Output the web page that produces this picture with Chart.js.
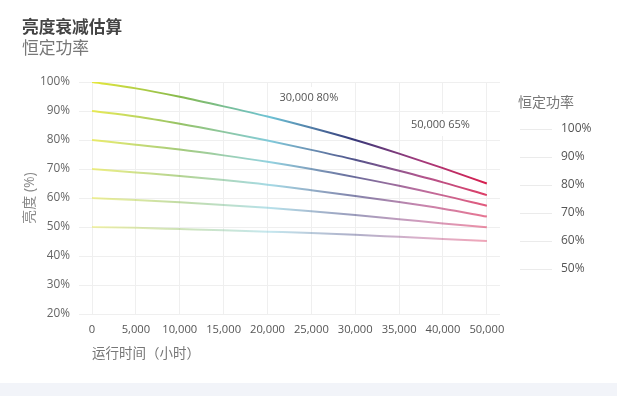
<!DOCTYPE html>
<html>
<head>
<meta charset="utf-8">
<script src="https://cdn.jsdelivr.net/npm/chart.js@4.4.1/dist/chart.umd.min.js"></script>
<style>
  html, body { margin: 0; padding: 0; background: #ffffff; }
  #wrap { width: 617px; height: 383px; background: #ffffff; }
  #band { width: 617px; height: 13px; background: #f2f4f9; }
</style>
</head>
<body>
<div id="wrap"><canvas id="c" width="617" height="383"></canvas></div>
<div id="band"></div>
<script>
// ---- data ----
const xLabels = ['0', '5,000', '10,000', '15,000', '20,000', '25,000', '30,000', '35,000', '40,000', '50,000'];
const yTicks = [20, 30, 40, 50, 60, 70, 80, 90, 100];
const seriesNames = ['100%', '90%', '80%', '70%', '60%', '50%'];
const s100 = [100, 97.8, 94.9, 91.6, 88.1, 84.2, 80.0, 75.3, 70.3, 65.0];
const s90  = [90, 88.1, 85.6, 82.8, 79.8, 76.6, 73.2, 69.4, 65.4, 61.0];
const s80  = [80, 78.4, 76.7, 74.7, 72.5, 70.0, 67.2, 64.2, 60.9, 57.3];
const s70  = [70, 68.8, 67.6, 66.2, 64.6, 62.7, 60.7, 58.6, 56.3, 53.6];
const s60  = [60, 59.3, 58.5, 57.6, 56.6, 55.4, 54.1, 52.7, 51.2, 49.9];
const s50  = [50, 49.7, 49.3, 48.9, 48.4, 47.9, 47.3, 46.6, 45.9, 45.2];
const markerIdx = [6, 9];
const markerVal = [80, 65];
const markerText = ['30,000 80%', '50,000 65%'];
const legendTitle = '恒定功率';

const allSeries = [s100, s90, s80, s70, s60, s50];
const alphas = [1.0, 0.86, 0.74, 0.62, 0.5, 0.4];

const FONT = '"Open Sans", "Noto Sans CJK SC", sans-serif';

function hexA(hex, a) {
  const r = parseInt(hex.slice(1,3),16), g = parseInt(hex.slice(3,5),16), b = parseInt(hex.slice(5,7),16);
  return `rgba(${r},${g},${b},${a})`;
}
const stops = [
  [0.00, '#e6e83c'],
  [0.22, '#86b94c'],
  [0.45, '#6ec3d6'],
  [0.66, '#343878'],
  [0.83, '#a23a7c'],
  [1.00, '#d81f4e']
];
function makeGradient(chart, alpha) {
  const {ctx, chartArea, scales} = chart;
  if (!chartArea || !scales.x) return null;
  const x0 = scales.x.getPixelForValue(0);
  const x1 = scales.x.getPixelForValue(xLabels.length - 1);
  const g = ctx.createLinearGradient(x0, 0, x1, 0);
  stops.forEach(s => g.addColorStop(s[0], hexA(s[1], alpha)));
  return g;
}

const datasets = allSeries.map((arr, k) => ({
  label: seriesNames[k],
  data: arr.map((v, i) => ({x: i, y: v})),
  borderWidth: 2,
  pointRadius: 0,
  pointHoverRadius: 0,
  cubicInterpolationMode: 'monotone',
  fill: false,
  borderColor: (ctx) => makeGradient(ctx.chart, alphas[k]) || '#999'
}));

const markerPlugin = {
  id: 'markers',
  beforeDatasetsDraw(chart) {
    const {ctx, scales, chartArea} = chart;
    const offsets = [[-17, 16], [-17, 43]];
    ctx.save();
    ctx.font = '11px ' + FONT;
    markerIdx.forEach((idx, m) => {
      const x = scales.x.getPixelForValue(idx);
      const right = x + offsets[m][0];
      const cy = chartArea.top + offsets[m][1];
      const w = ctx.measureText(markerText[m]).width;
      ctx.fillStyle = '#ffffff';
      ctx.fillRect(right - w - 10, cy - 11, w + 20, 22);
      ctx.fillStyle = '#555555';
      ctx.textAlign = 'right';
      ctx.textBaseline = 'middle';
      ctx.fillText(markerText[m], right, cy);
    });
    ctx.restore();
  }
};

const legendPlugin = {
  id: 'sideLegend',
  afterDraw(chart) {
    const {ctx, chartArea} = chart;
    const x0 = chartArea.right + 18;
    ctx.save();
    ctx.textBaseline = 'middle';
    ctx.textAlign = 'left';
    ctx.fillStyle = '#777777';
    ctx.font = '14px ' + FONT;
    ctx.fillText(legendTitle, x0, chartArea.top + 21);
    ctx.font = '12px ' + FONT;
    chart.data.datasets.forEach((ds, i) => {
      const y = chartArea.top + 46.5 + i * 28;
      ctx.fillStyle = '#ebebeb';
      ctx.fillRect(x0 + 2, Math.round(y), 32, 1);
      ctx.fillStyle = '#555555';
      ctx.fillText(ds.label, x0 + 43, y);
    });
    ctx.restore();
  }
};

new Chart(document.getElementById('c'), {
  type: 'line',
  data: { datasets },
  plugins: [markerPlugin, legendPlugin],
  options: {
    responsive: false,
    animation: false,
    devicePixelRatio: 1,
    layout: { padding: { left: 22, top: 18, right: 117, bottom: 21 } },
    plugins: {
      tooltip: { enabled: false },
      legend: { display: false },
      title: {
        display: true, text: '亮度衰减估算', align: 'start',
        color: '#444444', font: { family: FONT, size: 16.7, weight: 'bold' },
        padding: { top: 0, bottom: 1 }
      },
      subtitle: {
        display: true, text: '恒定功率', align: 'start',
        color: '#777777', font: { family: FONT, size: 16.8 },
        padding: { top: 0, bottom: 22.8 }
      }
    },
    scales: {
      x: {
        type: 'linear', min: 0, max: 9.3,
        afterBuildTicks: (scale) => { scale.ticks = xLabels.map((_, i) => ({ value: i })); },
        afterFit: (scale) => { scale.height = 48; },
        ticks: {
          autoSkip: false, maxRotation: 0, padding: 9,
          color: '#555555', font: { family: FONT, size: 11.2 },
          callback: (v) => xLabels[v]
        },
        grid: { color: '#efefef', drawTicks: false },
        border: { display: false },
        title: {
          display: true, text: '运行时间（小时）', align: 'start',
          color: '#777777', font: { family: FONT, size: 13.5 }, padding: { top: 0, bottom: 0 }
        }
      },
      y: {
        min: 20, max: 100,
        afterBuildTicks: (scale) => { scale.ticks = yTicks.map(v => ({ value: v })); },
        afterFit: (scale) => { scale.width = 70; },
        ticks: {
          padding: 9, color: '#666666', font: { family: FONT, size: 11.8 },
          callback: (v) => v + '%'
        },
        grid: { color: '#efefef', drawTicks: true, tickLength: 13 },
        border: { display: false },
        title: {
          display: true, text: '亮度 (%)',
          color: '#888888', font: { family: FONT, size: 14 }, padding: { top: 0, bottom: 0 }
        }
      }
    }
  }
});
</script>
</body>
</html>
